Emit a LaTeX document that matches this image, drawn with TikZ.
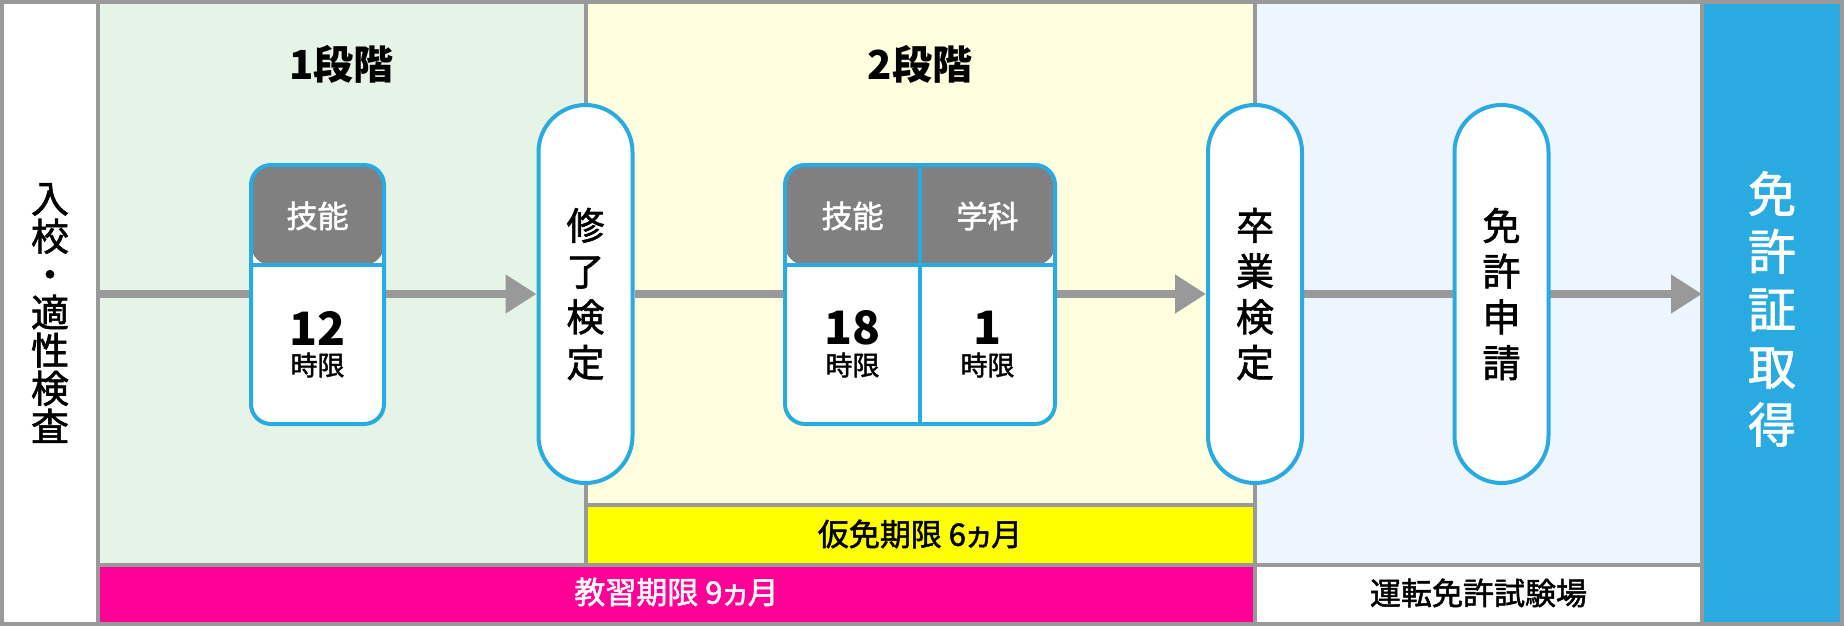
\documentclass[tikz,border=0pt]{standalone}
\usepackage{fontspec}
\setmainfont{Noto Sans CJK JP}
\newfontfamily\medfont{Noto Sans CJK JP}[FakeBold=1.6]
\newfontfamily\medpaltfont{Noto Sans CJK JP}[RawFeature=+palt, FakeBold=1.6]
\usetikzlibrary{arrows.meta}
\pgfdeclarelayer{bg}
\pgfdeclarelayer{arrowlayer}
\pgfsetlayers{bg,arrowlayer,main}

\definecolor{gridgray}{HTML}{999999}
\definecolor{skyblue}{HTML}{29ABE2}
\definecolor{hdrgray}{HTML}{808080}
\definecolor{mint}{HTML}{E5F4E6}
\definecolor{cream}{HTML}{FFFFE0}
\definecolor{ice}{HTML}{EDF6FE}
\definecolor{magentaband}{HTML}{FF0096}
\definecolor{yellowband}{HTML}{FFFF00}

\tikzset{
  region/.style={rectangle, draw=gridgray, line width=4pt, inner sep=0pt, outer sep=0pt},
  capsule/.style={rectangle, draw=skyblue, fill=white, line width=4pt,
    minimum width=94pt, minimum height=378pt, rounded corners=47pt,
    inner sep=0pt, align=center, font=\medfont\fontsize{38pt}{45.7pt}\selectfont},
  cellbox/.style={rectangle, draw=skyblue, fill=white, line width=4pt,
    minimum height=259pt, rounded corners=20pt, inner sep=0pt},
  onehead/.style={path picture={
    \fill[hdrgray] (path picture bounding box.north west) rectangle ([yshift=-100pt]path picture bounding box.north east);
    \draw[skyblue, line width=4pt] ([yshift=-100pt]path picture bounding box.north west) -- ([yshift=-100pt]path picture bounding box.north east);}},
  twohead/.style={path picture={
    \fill[hdrgray] (path picture bounding box.north west) rectangle ([yshift=-100pt]path picture bounding box.north east);
    \draw[skyblue, line width=4pt] ([yshift=-100pt]path picture bounding box.north west) -- ([yshift=-100pt]path picture bounding box.north east);
    \draw[skyblue, line width=4pt] (path picture bounding box.north) -- (path picture bounding box.south);}},
  flow/.style={draw=gridgray, line width=8pt, -{Triangle[length=31pt,width=37pt]}},
  stagetitle/.style={inner sep=0pt, font=\bfseries\fontsize{40pt}{40pt}\selectfont},
  vtext/.style={inner sep=0pt, align=center},
  hdrtext/.style={inner sep=0pt, text=white, font=\medfont\fontsize{31pt}{31pt}\selectfont},
  numtext/.style={inner sep=0pt, font=\bfseries\fontsize{46pt}{46pt}\selectfont},
  unittext/.style={inner sep=0pt, font=\medfont\fontsize{27pt}{27pt}\selectfont},
  bandtext/.style={inner sep=0pt, font=\medpaltfont\fontsize{31pt}{31pt}\selectfont},
}

\begin{document}
\begin{tikzpicture}[x=1pt, y=-1pt]
\useasboundingbox (0,0) rectangle (1844,626);

\begin{pgfonlayer}{bg}
  \node[region, fill=white, minimum width=96pt, minimum height=622pt] (leftcol) at (50,313) {};
  \node[region, fill=mint, minimum width=487.5pt, minimum height=563pt] (stage1) at (341.75,283.5) {};
  \node[region, fill=cream, minimum width=669.5pt, minimum height=503pt] (stage2) at (920.25,253.5) {};
  \node[region, fill=yellowband, minimum width=669.5pt, minimum height=60pt] (kari) at (920.25,535) {};
  \node[region, fill=ice, minimum width=447pt, minimum height=563pt] (exam) at (1478.5,283.5) {};
  \node[region, fill=magentaband, minimum width=1157pt, minimum height=59pt] (kyoshu) at (676.5,594.5) {};
  \node[region, fill=white, minimum width=447pt, minimum height=59pt] (shiken) at (1478.5,594.5) {};
  \node[region, fill=skyblue, minimum width=140pt, minimum height=622pt] (bluecol) at (1772,313) {};
\end{pgfonlayer}

% texts of the regions
\node[vtext, font=\medfont\fontsize{38pt}{38pt}\selectfont] (lefttext) at (50,313) {入\\校\\・\\適\\性\\検\\査};
\node[vtext, text=white, font=\medfont\fontsize{48pt}{57.7pt}\selectfont] (bluetext) at (1772,309) {免\\許\\証\\取\\得};
\node[stagetitle] (title1) at (341.5,64) {1段階};
\node[stagetitle] (title2) at (920,64) {2段階};
\node[bandtext] (karitext) at (920,534) {仮免期限 6ヵ月};
\node[bandtext, text=white] (kyoshutext) at (676.5,592) {教習期限 9ヵ月};
\node[bandtext] (shikentext) at (1478.5,593) {運転免許試験場};

% capsules
\node[capsule] (cap1) at (585.5,294) {修\\了\\検\\定};
\node[capsule] (cap2) at (1255,294) {卒\\業\\検\\定};
\node[capsule] (cap3) at (1501.5,294) {免\\許\\申\\請};

% lesson boxes
\node[cellbox, onehead, minimum width=133pt] (box1) at (317.5,294.5) {};
\node[cellbox, twohead, minimum width=270pt] (box2) at (920,294.5) {};

\node[hdrtext] (h1) at (317.5,216) {技能};
\node[numtext] (n1) at (317.5,328) {12};
\node[unittext] (u1) at (317.5,365) {時限};

\node[hdrtext] (h2a) at (852.5,216) {技能};
\node[hdrtext] (h2b) at (987.5,216) {学科};
\node[numtext] (n2a) at (852.5,328) {18};
\node[numtext] (n2b) at (987.5,328) {1};
\node[unittext] (u2a) at (852.5,365) {時限};
\node[unittext] (u2b) at (987.5,365) {時限};

\begin{pgfonlayer}{arrowlayer}
  \draw[flow] (leftcol.east |- cap1.west) -- (cap1.west);
  \draw[flow] (cap1.east) -- (cap2.west);
  \draw[flow] (cap2.east) -- (bluecol.west |- cap2.east);
\end{pgfonlayer}
\end{tikzpicture}
\end{document}
